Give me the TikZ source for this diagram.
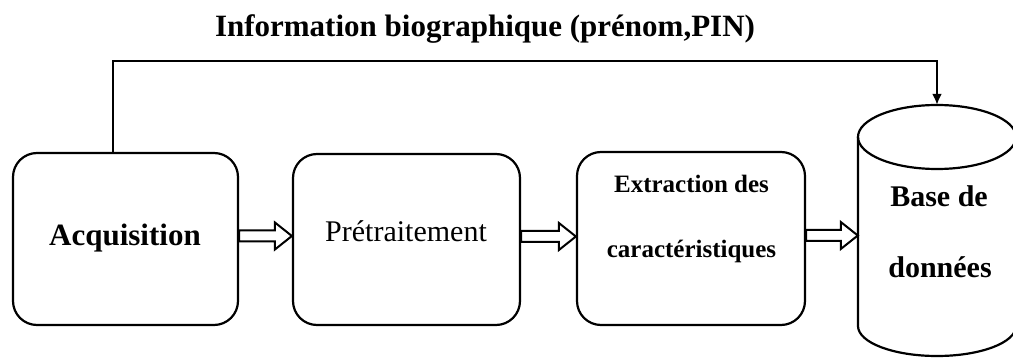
\documentclass[tikz,border=0pt]{standalone}
\usepackage{fontspec}
\setmainfont{Liberation Serif}
\usetikzlibrary{calc,arrows.meta}
\tikzset{
  procbox/.style={draw, line width=2.2pt, rounded corners=24pt, inner sep=0pt},
  lbl/.style={anchor=base, inner sep=0pt},
  conn/.style={line width=2pt, -{Latex[length=11pt,width=10pt]}},
  dblarrow/.style={draw, line width=2pt, fill=white, line join=miter,
    to path={let \p1=(\tikztostart), \p2=(\tikztotarget) in
      (\x1,\y1+5.5pt) -- (\x2-17pt,\y1+5.5pt) -- (\x2-17pt,\y1+13.5pt) -- (\x2,\y1)
      -- (\x2-17pt,\y1-13.5pt) -- (\x2-17pt,\y1-5.5pt) -- (\x1,\y1-5.5pt) -- cycle}}
}
\begin{document}
\begin{tikzpicture}[x=1pt,y=-1pt]
\useasboundingbox (0,0) rectangle (1013,358);
\clip (0,0) rectangle (1013,358);
% boxes
\node[procbox, minimum width=225pt, minimum height=172pt] (acq) at (125.5,239) {};
\node[procbox, minimum width=227pt, minimum height=171pt] (pre) at (406.5,239.5) {};
\node[procbox, minimum width=228pt, minimum height=173pt] (ext) at (691,238.5) {};
% database cylinder
\node[minimum width=158pt, minimum height=251pt, inner sep=0pt] (db) at (937,230.5) {};
\draw[line width=2.2pt] (858,137) -- (858,326)
   arc[start angle=180, end angle=360, x radius=79pt, y radius=30pt] -- (1016,137);
\draw[line width=2.2pt] (937,137) ellipse[x radius=79pt, y radius=32pt];
% texts
\node[lbl, font=\fontsize{31}{36}\selectfont\bfseries] (title) at (485,37) {Information biographique (prénom,PIN)};
\node[lbl, font=\fontsize{31}{36}\selectfont\bfseries] (tacq) at (125,246) {Acquisition};
\node[lbl, font=\fontsize{30}{36}\selectfont] (tpre) at (406,242) {Prétraitement};
\node[lbl, font=\fontsize{25}{30}\selectfont\bfseries] (text1) at (691.5,193) {Extraction des};
\node[lbl, font=\fontsize{25}{30}\selectfont\bfseries] (text2) at (691.5,258) {caractéristiques};
\node[lbl, font=\fontsize{30}{36}\selectfont\bfseries] (tdb1) at (939,207) {Base de};
\node[lbl, font=\fontsize{30}{36}\selectfont\bfseries] (tdb2) at (940,278) {données};
% connectors
\draw[dblarrow] ([yshift=3pt]acq.east) to ([yshift=3pt]pre.west);
\draw[dblarrow] ([yshift=3pt]pre.east) to ([yshift=3pt]ext.west);
\draw[dblarrow] ([yshift=3pt]ext.east) to ([yshift=3pt]ext.east -| db.west);
\coordinate (corner) at (113,61);
\draw[conn] (acq.north -| corner) -- (corner) -| (db.north);
\end{tikzpicture}
\end{document}
